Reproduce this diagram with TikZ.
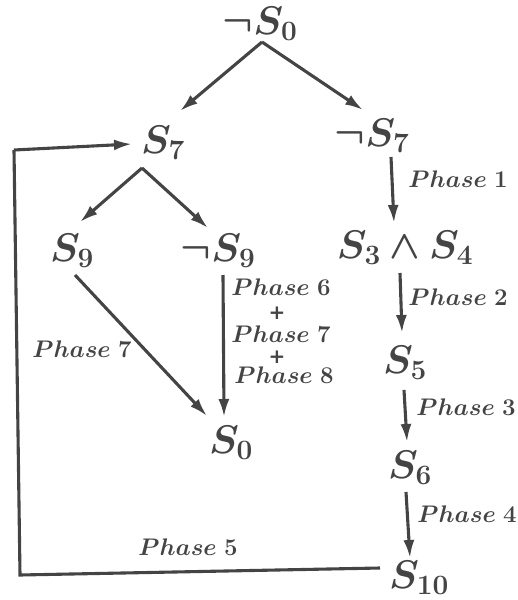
\RequirePackage{fix-cm}
\documentclass[tikz,border=0pt]{standalone}
\usepackage{bm}
\usepackage{fontspec}
\newfontfamily\plusfont{DejaVu Sans}
\usetikzlibrary{arrows.meta,calc}
\definecolor{ink}{HTML}{444444}
\begin{document}
\begin{tikzpicture}[x=1pt,y=-1pt, line width=3.1pt,
  st/.style={text=ink, font=\fontsize{40}{48}\selectfont, inner sep=0pt, anchor=base},
  ph/.style={text=ink, font=\fontsize{24}{28}\selectfont, inner sep=0pt, anchor=base},
  pl/.style={text=ink, font=\plusfont\bfseries\fontsize{20}{22}\selectfont, inner sep=0pt},
  arr/.style={draw=ink, -{Latex[length=18pt,width=11pt]}},
  ln/.style={draw=ink, line join=miter}]
\useasboundingbox (0,0) rectangle (518,600);
% states
\node[st] (n0)  at (260,34)  {$\bm{\neg S_0}$};
\node[st] (s7)  at (163,153) {$\bm{S_7}$};
\node[st] (ns7) at (372,146) {$\bm{\neg S_7}$};
\node[st] (s9)  at (72,261)  {$\bm{S_9}$};
\node[st] (ns9) at (218,261) {$\bm{\neg S_9}$};
\node[st] (s34) at (405,258) {$\bm{S_3\wedge S_4}$};
\node[st] (s5)  at (405,373) {$\bm{S_5}$};
\node[st] (s0)  at (231,453) {$\bm{S_0}$};
\node[st] (s6)  at (410,478) {$\bm{S_6}$};
\node[st] (s10) at (419,588) {$\bm{S_{10}}$};
% labels
\node[ph] (p1) at (458,187) {$\bm{Phase\ 1}$};
\node[ph] (p2) at (458,305) {$\bm{Phase\ 2}$};
\node[ph] (p3) at (466,415) {$\bm{Phase\ 3}$};
\node[ph] (p4) at (467,522) {$\bm{Phase\ 4}$};
\node[ph] (p5) at (188,555) {$\bm{Phase\ 5}$};
\node[ph] (p6) at (281,295) {$\bm{Phase\ 6}$};
\node[pl] (pa) at (277,313) {+};
\node[ph] (p7) at (281,342) {$\bm{Phase\ 7}$};
\node[pl] (pb) at (277,357) {+};
\node[ph] (p8) at (284,383) {$\bm{Phase\ 8}$};
\node[ph] (p7l) at (82,357) {$\bm{Phase\ 7}$};
% loop corners
\coordinate (c1) at (20,575);
\coordinate (c2) at (14,150);
% connectors
\draw[arr] ($(n0.base)+(2,8)$) -- ($(s7.base)+(17,-42)$);
\draw[arr] ($(n0.base)+(2,8)$) -- ($(ns7.base)+(-9,-36)$);
\draw[arr] ($(s7.base)+(-21,15)$) -- ($(s9.base)+(8,-39)$);
\draw[arr] ($(s7.base)+(-21,15)$) -- ($(ns9.base)+(-10,-33)$);
\draw[arr] ($(ns7.base)+(19,11)$) -- ($(s34.base)+(-11,-35)$);
\draw[arr] ($(s34.base)+(-5,15)$) -- ($(s5.base)+(-3,-40)$);
\draw[arr] ($(s5.base)+(-1,17)$) -- ($(s6.base)+(-3,-36)$);
\draw[arr] ($(s6.base)+(-4,14)$) -- ($(s10.base)+(-9,-30)$);
\draw[arr] ($(s9.base)+(3,14)$) -- ($(s0.base)+(-24,-37)$);
\draw[arr] ($(ns9.base)+(5,14)$) -- ($(s0.base)+(-7,-36)$);
\draw[ln] ($(s10.base)+(-39,-20)$) -- (c1) -- (c2);
\draw[arr] (c2) -- ($(s7.base)+(-31,-9)$);
\end{tikzpicture}
\end{document}
